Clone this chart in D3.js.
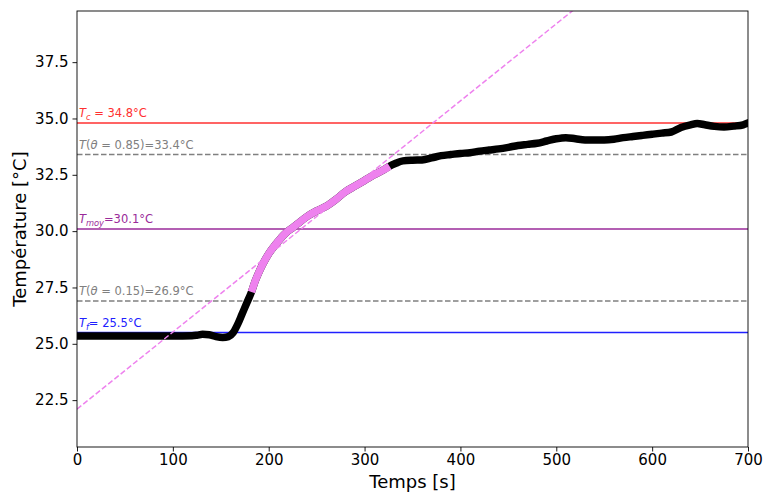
<!DOCTYPE html>
<html><head><meta charset="utf-8">
<script src="https://cdn.jsdelivr.net/npm/d3@7"></script>
<style>body{margin:0;background:#fff}svg{display:block}text{font-family:"DejaVu Sans",sans-serif}</style>
</head><body>
<script>
const times = [0,20,40,60,80,100,120,125,131,138,145,152,158,163,168,172,177,182,186,190,194,200,206,210,215,220,225,230,240,250,260,270,280,290,300,310,320,326,332,340,350,360,370,380,390,400,410,420,430,440,450,460,470,480,490,500,510,520,530,540,550,560,570,580,590,600,610,620,630,640,647,655,665,675,685,695,700];
const temps = [25.35,25.35,25.35,25.35,25.35,25.35,25.36,25.38,25.42,25.4,25.32,25.28,25.32,25.5,25.9,26.3,26.8,27.3,27.8,28.2,28.55,29.0,29.35,29.55,29.8,30.0,30.15,30.32,30.65,30.9,31.1,31.4,31.75,32.0,32.25,32.5,32.72,32.88,33.0,33.12,33.15,33.16,33.25,33.35,33.4,33.45,33.48,33.55,33.6,33.65,33.72,33.8,33.85,33.9,34.0,34.1,34.15,34.1,34.05,34.05,34.05,34.08,34.15,34.2,34.25,34.3,34.35,34.4,34.6,34.72,34.78,34.72,34.65,34.62,34.66,34.72,34.8];
const fitWindow = [182, 326];
const tangentIntercept = 22.1;
const tangentSlope = 0.0342;
const refNames = ["Tc","T85","Tmoy","T15","Tf"];
const refValues = [34.8, 33.4, 30.1, 26.9, 25.5];
const xTicks = [0,100,200,300,400,500,600,700];
const yTicks = [22.5,25.0,27.5,30.0,32.5,35.0,37.5];

const W=763,H=493, L=77,R=748,T=11,B=447;
const svg=d3.select("body").append("svg").attr("width",W).attr("height",H);
const x=d3.scaleLinear().domain([0,700]).range([L,R]);
const y=d3.scaleLinear().domain([20.42,39.77]).range([B,T]);

svg.append("defs").append("clipPath").attr("id","clip").append("rect")
  .attr("x",L).attr("y",T).attr("width",R-L).attr("height",B-T);
const g=svg.append("g").attr("clip-path","url(#clip)");

const data = times.map((t,i)=>({t,v:temps[i]}));
const line=d3.line().x(d=>x(d.t)).y(d=>y(d.v)).curve(d3.curveMonotoneX);

// reference lines
const refStyle = {
  Tc:{c:"#ff3030",dash:null},
  T85:{c:"#808080",dash:"5.5,2.5"},
  Tmoy:{c:"#9a2a9a",dash:null},
  T15:{c:"#808080",dash:"5.5,2.5"},
  Tf:{c:"#2020ff",dash:null}
};
refNames.forEach((n,i)=>{
  const s=refStyle[n];
  g.append("line").attr("x1",x(0)).attr("x2",x(700)).attr("y1",y(refValues[i])).attr("y2",y(refValues[i]))
   .attr("stroke",s.c).attr("stroke-width",1.5).attr("stroke-dasharray",s.dash);
});

// data curve
g.append("path").datum(data).attr("d",line).attr("fill","none").attr("stroke","#000")
 .attr("stroke-width",7.5).attr("stroke-linecap","round").attr("stroke-linejoin","round");
g.append("path").datum(data.filter(d=>d.t>=fitWindow[0]&&d.t<=fitWindow[1])).attr("d",line)
 .attr("fill","none").attr("stroke","#ee82ee").attr("stroke-width",7.5).attr("stroke-linecap","butt");

// tangent
g.append("line").attr("x1",x(0)).attr("y1",y(tangentIntercept)).attr("x2",x(700)).attr("y2",y(tangentIntercept+tangentSlope*700))
 .attr("stroke","#ee82ee").attr("stroke-width",1.5).attr("stroke-dasharray","5.5,2.5");

// labels
const fs=11.5;
function lab(i,color,parts){
  const t=svg.append("text").attr("x",x(2)).attr("y",y(refValues[i])-6).attr("fill",color).attr("font-size",fs);
  parts.forEach(p=>{
    const ts=t.append("tspan").text(p.s);
    if(p.i) ts.attr("font-style","italic");
    if(p.sub) ts.attr("font-size",fs*0.72).attr("dy",3);
    if(p.up) ts.attr("dy",-3);
  });
}
lab(0,"#ff3030",[{s:"T",i:1},{s:"c",i:1,sub:1},{s:" = 34.8°C",up:1}]);
lab(1,"#808080",[{s:"T",i:1},{s:"("},{s:"θ",i:1},{s:" = 0.85)=33.4°C"}]);
lab(2,"#9a2a9a",[{s:"T",i:1},{s:"moy",i:1,sub:1},{s:"=30.1°C",up:1}]);
lab(3,"#808080",[{s:"T",i:1},{s:"("},{s:"θ",i:1},{s:" = 0.15)=26.9°C"}]);
lab(4,"#2020ff",[{s:"T",i:1},{s:"f",i:1,sub:1},{s:"= 25.5°C",up:1}]);

// axes
const xa=svg.append("g").attr("transform",`translate(0,${B})`).call(d3.axisBottom(x).tickValues(xTicks).tickFormat(d3.format("d")).tickSize(4.5).tickPadding(3));
const ya=svg.append("g").attr("transform",`translate(${L},0)`).call(d3.axisLeft(y).tickValues(yTicks).tickFormat(d3.format(".1f")).tickSize(4.5).tickPadding(4));
[xa,ya].forEach(a=>{a.select(".domain").remove();a.selectAll("text").attr("font-size",15).attr("fill","#000").attr("font-family","DejaVu Sans");a.selectAll("line").attr("stroke","#000").attr("stroke-width",0.9);});
svg.append("rect").attr("x",L).attr("y",T).attr("width",R-L).attr("height",B-T).attr("fill","none").attr("stroke","#000").attr("stroke-width",0.9);

svg.append("text").attr("x",(L+R)/2).attr("y",488).attr("text-anchor","middle").attr("font-size",18).text("Temps [s]");
svg.append("text").attr("transform",`translate(26,${(T+B)/2}) rotate(-90)`).attr("text-anchor","middle").attr("font-size",18).text("Température [°C]");
</script>
</body></html>
